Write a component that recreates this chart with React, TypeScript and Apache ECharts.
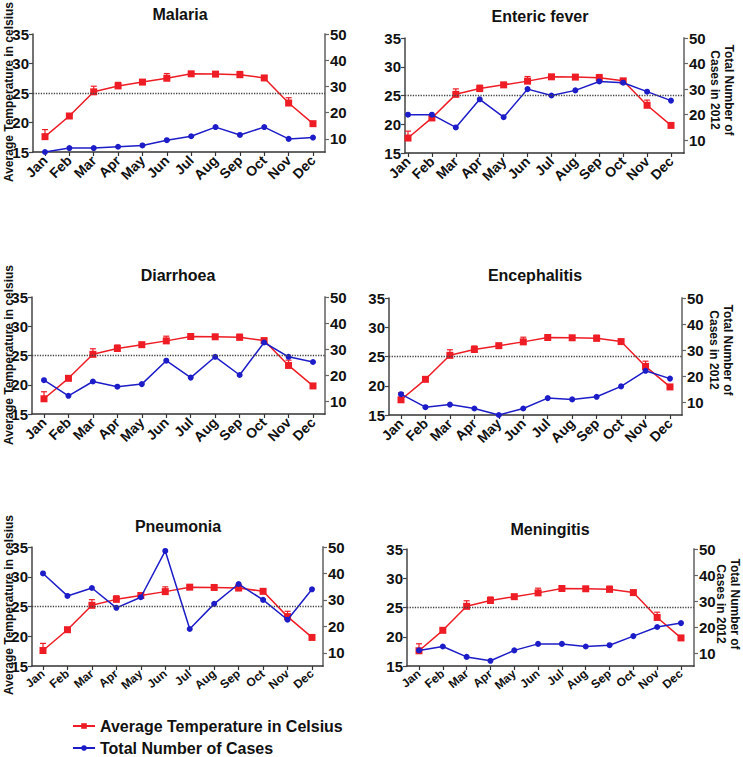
import React, { useEffect, useRef } from "react";
import * as echarts from "echarts";

const MONTHS = ["Jan", "Feb", "Mar", "Apr", "May", "Jun", "Jul", "Aug", "Sep", "Oct", "Nov", "Dec"];
const TEMP = [17.6, 21.1, 25.2, 26.2, 26.85, 27.5, 28.25, 28.2, 28.1, 27.55, 23.3, 19.8];
const TEMP_ERR = [1.2, 0.3, 0.95, 0.6, 0.3, 0.8, 0.3, 0.3, 0.55, 0.3, 0.9, 0.3];

const MALARIA = [5, 6.5, 6.5, 7, 7.5, 9.5, 11, 14.5, 11.5, 14.5, 10, 10.5];
const ENTERIC = [20, 20, 15, 26, 19, 30, 27.5, 29.5, 33, 32.5, 29, 25.5];
const DIARRHOEA = [18, 12, 17.5, 15.5, 16.5, 25.5, 19, 27, 20, 32.5, 27, 25];
const ENCEPHALITIS = [13, 8, 9, 7.5, 5, 7.5, 11.5, 11, 12, 16, 22, 19];
const PNEUMONIA = [40, 31.5, 34.5, 27, 31, 48.5, 19, 28.5, 36, 30, 22.5, 34];
const MENINGITIS = [11, 12.5, 8.5, 7, 11, 13.5, 13.5, 12.5, 13, 16.5, 20, 21.5];

const TITLES = ["Malaria", "Enteric fever", "Diarrhoea", "Encephalitis", "Pneumonia", "Meningitis"];
const CASES = [MALARIA, ENTERIC, DIARRHOEA, ENCEPHALITIS, PNEUMONIA, MENINGITIS];

const TEMP_NAME = "Average Temperature in Celsius";
const CASES_NAME = "Total Number of Cases";
const LEFT_TITLE = "Average Temperature in celsius";
const RIGHT_TITLE = "Total Number of\nCases in 2012";
const LEFT_MIN = 15;
const LEFT_MAX = 35;
const LEFT_INTERVAL = 5;
const RIGHT_MIN = 5;
const RIGHT_MAX = 50;
const RIGHT_TICKS = [10, 20, 30, 40, 50];
const REF_LINE = 25;

const RED = "#ee1c24";
const BLUE = "#1c1cc8";
const FONT = '"Liberation Sans", Arial, Helvetica, sans-serif';

// layout: plot box (L,R,T,B), Jan/Dec pixel positions, title center
const PANELS = [
  { L: 33, R: 325, T: 34, B: 152, J: 45, D: 313, tx: 180, ty: 14, month: 14, rot: 45, leftTitle: 92, rightTitle: null },
  { L: 405, R: 684, T: 38, B: 153, J: 408, D: 671, tx: 540, ty: 16, month: 14, rot: 45, leftTitle: null, rightTitle: [722, 90] },
  { L: 32, R: 325, T: 297, B: 414, J: 44, D: 313, tx: 178, ty: 275, month: 14, rot: 45, leftTitle: 355, rightTitle: null },
  { L: 389, R: 682, T: 298, B: 415, J: 401, D: 670, tx: 535, ty: 275, month: 14, rot: 45, leftTitle: null, rightTitle: [721, 350] },
  { L: 32, R: 323, T: 547, B: 666, J: 43, D: 312, tx: 178, ty: 526, month: 12, rot: 40, leftTitle: 605, rightTitle: null },
  { L: 407, R: 694, T: 549, B: 666, J: 419, D: 681, tx: 550, ty: 529, month: 12, rot: 40, leftTitle: null, rightTitle: [728, 604] },
];

const IDX = MONTHS.map((_, i) => i);

function buildOption() {
  const grid: any[] = [];
  const xAxis: any[] = [];
  const yAxis: any[] = [];
  const series: any[] = [];
  const graphic: any[] = [];

  PANELS.forEach((p, i) => {
    const s = (p.D - p.J) / (MONTHS.length - 1);
    grid.push({ left: p.L, top: p.T, width: p.R - p.L, height: p.B - p.T });
    xAxis.push({
      type: "value",
      gridIndex: i,
      min: -(p.J - p.L) / s,
      max: MONTHS.length - 1 + (p.R - p.D) / s,
      axisLine: { show: true, onZero: false, lineStyle: { color: "#333", width: 1.5 } },
      axisTick: { show: true, customValues: IDX, length: 4, lineStyle: { color: "#333", width: 1.2 } },
      axisLabel: {
        customValues: IDX,
        rotate: p.rot,
        margin: 6,
        formatter: (v: number) => MONTHS[Math.round(v)],
        fontWeight: "bold",
        fontSize: p.month,
        fontFamily: FONT,
        color: "#111",
      },
      splitLine: { show: false },
    });
  });

  PANELS.forEach((p, i) => {
    yAxis.push({
      type: "value",
      gridIndex: i,
      position: "left",
      min: LEFT_MIN,
      max: LEFT_MAX,
      interval: LEFT_INTERVAL,
      axisLine: { show: true, onZero: false, lineStyle: { color: "#444", width: 1.5 } },
      axisTick: { show: true, length: 4, lineStyle: { color: "#444", width: 1.2 } },
      axisLabel: { fontWeight: "bold", fontSize: 15, fontFamily: FONT, color: "#111", margin: 4 },
      splitLine: { show: false },
    });
  });
  PANELS.forEach((p, i) => {
    yAxis.push({
      type: "value",
      gridIndex: i,
      position: "right",
      min: RIGHT_MIN,
      max: RIGHT_MAX,
      axisLine: { show: true, onZero: false, lineStyle: { color: "#888", width: 2 } },
      axisTick: { show: true, customValues: RIGHT_TICKS, length: 4, lineStyle: { color: "#666", width: 1.2 } },
      axisLabel: { customValues: RIGHT_TICKS, fontWeight: "bold", fontSize: 15, fontFamily: FONT, color: "#111", margin: 5 },
      splitLine: { show: false },
    });
  });

  PANELS.forEach((p, i) => {
    series.push({
      type: "custom",
      name: "err",
      xAxisIndex: i,
      yAxisIndex: i,
      z: 2,
      silent: true,
      data: TEMP.map((v, k) => [k, v, TEMP_ERR[k]]),
      encode: { x: 0, y: 1 },
      renderItem: (params: any, api: any) => {
        const x = api.value(0);
        const y = api.value(1);
        const e = api.value(2);
        const p0 = api.coord([x, y]);
        const p1 = api.coord([x, y + e]);
        const st = { stroke: RED, lineWidth: 1.2 };
        return {
          type: "group",
          children: [
            { type: "line", shape: { x1: p0[0], y1: p0[1], x2: p1[0], y2: p1[1] }, style: st },
            { type: "line", shape: { x1: p1[0] - 3, y1: p1[1], x2: p1[0] + 3, y2: p1[1] }, style: st },
          ],
        };
      },
    });
    series.push({
      type: "line",
      name: TEMP_NAME,
      xAxisIndex: i,
      yAxisIndex: i,
      z: 3,
      data: TEMP.map((v, k) => [k, v]),
      symbol: "rect",
      symbolSize: 7,
      itemStyle: { color: RED },
      lineStyle: { color: RED, width: 1.5 },
      markLine: {
        silent: true,
        symbol: ["none", "none"],
        label: { show: false },
        lineStyle: { type: "dotted", color: "#444", width: 1.3 },
        data: [{ yAxis: REF_LINE }],
      },
    });
    series.push({
      type: "line",
      name: CASES_NAME,
      xAxisIndex: i,
      yAxisIndex: PANELS.length + i,
      z: 4,
      data: CASES[i].map((v, k) => [k, v]),
      symbol: "circle",
      symbolSize: 6,
      itemStyle: { color: BLUE },
      lineStyle: { color: BLUE, width: 1.5 },
    });

    graphic.push({
      type: "text",
      x: p.tx,
      y: p.ty,
      style: { text: TITLES[i], fontSize: 16, fontWeight: "bold", fontFamily: FONT, fill: "#111", align: "center", verticalAlign: "middle" },
    });
    if (p.leftTitle !== null) {
      graphic.push({
        type: "text",
        x: 9,
        y: p.leftTitle,
        rotation: Math.PI / 2,
        style: { text: LEFT_TITLE, fontSize: 12, fontWeight: "bold", fontFamily: FONT, fill: "#111", align: "center", verticalAlign: "middle" },
      });
    }
    if (p.rightTitle) {
      graphic.push({
        type: "text",
        x: p.rightTitle[0],
        y: p.rightTitle[1],
        rotation: -Math.PI / 2,
        style: { text: RIGHT_TITLE, fontSize: 12, lineHeight: 14, fontWeight: "bold", fontFamily: FONT, fill: "#111", align: "center", verticalAlign: "middle" },
      });
    }
  });

  const legendBase = {
    orient: "vertical",
    left: 72,
    padding: 0,
    itemWidth: 22,
    itemHeight: 7,
    textStyle: { fontSize: 16, fontWeight: "bold", fontFamily: FONT, color: "#111" },
  };

  return {
    animation: false,
    backgroundColor: "#fff",
    textStyle: { fontFamily: FONT },
    grid,
    xAxis,
    yAxis,
    series,
    graphic,
    legend: [
      { ...legendBase, data: [TEMP_NAME], top: 718 },
      { ...legendBase, data: [CASES_NAME], top: 740 },
    ],
  };
}

export default function App() {
  const ref = useRef<HTMLDivElement>(null);
  useEffect(() => {
    if (!ref.current) return;
    const chart = echarts.init(ref.current, null, { renderer: "svg" });
    chart.setOption(buildOption() as any);
    return () => chart.dispose();
  }, []);
  return <div ref={ref} style={{ position: "absolute", left: 0, top: 0, width: 743, height: 757 }} />;
}
